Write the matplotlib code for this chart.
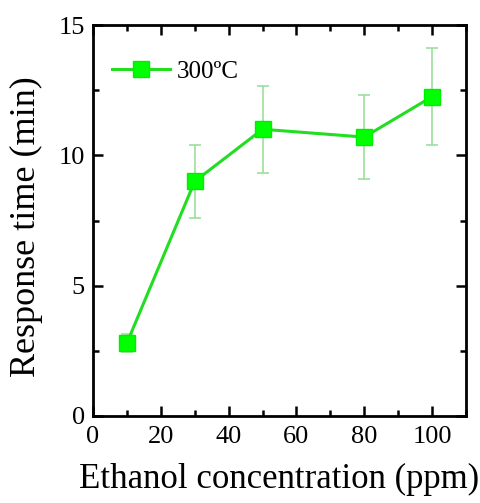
import matplotlib.pyplot as plt
from matplotlib.ticker import MultipleLocator

# response time vs ethanol concentration at 300 C
conc = [10, 30, 50, 80, 100]
resp_time = [2.8, 9.0, 11.0, 10.7, 12.25]
resp_err = [0.35, 1.4, 1.67, 1.6, 1.85]

plt.rcParams["font.family"] = ["Liberation Serif", "DejaVu Serif"]

fig = plt.figure(figsize=(4.8, 5.03), dpi=100)
ax = fig.add_axes([93 / 480, 87 / 503, 373 / 480, 391 / 503])

ax.errorbar(conc, resp_time, yerr=resp_err, fmt="none", ecolor="#9be09b",
            elinewidth=1.2, capsize=4, capthick=1.2, zorder=2)
ax.plot(conc, resp_time, color="#22dd22", lw=2.2, marker="s", ms=11,
        mfc="#00ff00", mec="#00ee00", label="300ºC", zorder=3)

ax.set_xlim(0, 110)
ax.set_ylim(0, 15)
ax.xaxis.set_major_locator(MultipleLocator(20))
ax.xaxis.set_minor_locator(MultipleLocator(10))
ax.yaxis.set_major_locator(MultipleLocator(5))
ax.yaxis.set_minor_locator(MultipleLocator(2.5))
ax.tick_params(which="both", direction="in", top=True, right=True, width=1.8,
               labelsize=19)
ax.tick_params(axis="x", pad=7)
ax.tick_params(axis="y", pad=6)
ax.tick_params(which="major", length=7)
ax.tick_params(which="minor", length=4)
for s in ax.spines.values():
    s.set_linewidth(2)

ax.set_xlabel("Ethanol concentration (ppm)", fontsize=25, labelpad=11)
ax.set_ylabel("Response time (min)", fontsize=26)
ax.yaxis.set_label_coords(-0.133, 0.485)

ax.legend(loc="upper left", bbox_to_anchor=(-16 / 373, 1.0), frameon=False,
          fontsize=18, handlelength=2.3, handletextpad=0.3, borderaxespad=1.0)

fig.savefig("out.png", dpi=100)
